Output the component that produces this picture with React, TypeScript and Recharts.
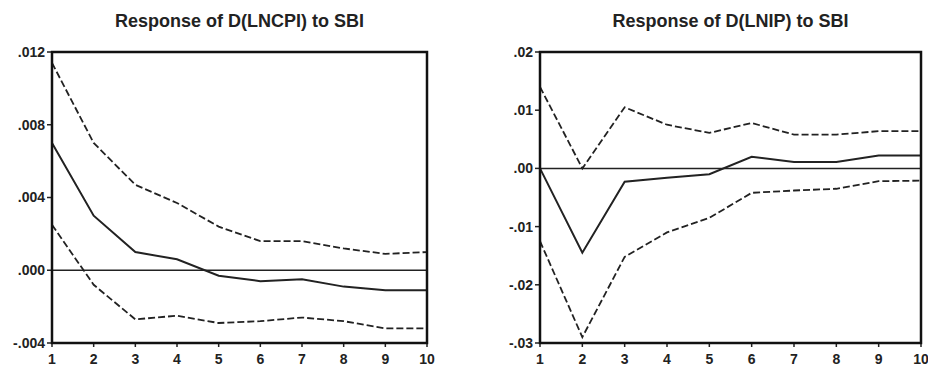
import { LineChart, Line, XAxis, YAxis, ReferenceLine } from "recharts";

const periods = [1, 2, 3, 4, 5, 6, 7, 8, 9, 10];

const cpiResponse = [0.007, 0.003, 0.001, 0.0006, -0.0003, -0.0006, -0.0005, -0.0009, -0.0011, -0.0011];
const cpiUpper = [0.0114, 0.007, 0.0047, 0.0037, 0.0024, 0.0016, 0.0016, 0.0012, 0.0009, 0.001];
const cpiLower = [0.0025, -0.0008, -0.0027, -0.0025, -0.0029, -0.0028, -0.0026, -0.0028, -0.0032, -0.0032];
const cpiTicks = [-0.004, 0, 0.004, 0.008, 0.012];

const ipResponse = [0.0, -0.0145, -0.0023, -0.0016, -0.001, 0.002, 0.0011, 0.0011, 0.0022, 0.0022];
const ipUpper = [0.014, 0.0, 0.0105, 0.0075, 0.0061, 0.0078, 0.0058, 0.0058, 0.0064, 0.0064];
const ipLower = [-0.0125, -0.029, -0.0152, -0.011, -0.0085, -0.0042, -0.0038, -0.0035, -0.0022, -0.0021];
const ipTicks = [-0.03, -0.02, -0.01, 0, 0.01, 0.02];

const font = "'Liberation Sans', Arial, sans-serif";
const ink = "#222";

const W = 464;
const H = 367;
const TOP = 52;
const X_AXIS_H = 24;

// EViews style: ".012", "-.004", ".00"
function fmt(digits: number) {
  return (v: number) => {
    const s = Math.abs(v).toFixed(digits).replace(/^0/, "");
    return v < -1e-9 ? "-" + s : s;
  };
}

interface PanelProps {
  title: string;
  resp: number[];
  upper: number[];
  lower: number[];
  ticks: number[];
  digits: number;
  left: number;
  yWidth: number;
  rightMargin: number;
}

function Panel({ title, resp, upper, lower, ticks, digits, left, yWidth, rightMargin }: PanelProps) {
  const data = periods.map((p, i) => ({
    period: p,
    resp: resp[i],
    upper: upper[i],
    lower: lower[i],
  }));
  const yMin = ticks[0];
  const yMax = ticks[ticks.length - 1];
  const xMax = periods[periods.length - 1];
  const plotLeft = yWidth;
  const plotRight = W - rightMargin;
  const plotH = H - TOP - X_AXIS_H;
  const tickStyle = { fill: ink, fontFamily: font, fontWeight: "bold", fontSize: 14 };

  return (
    <div style={{ position: "absolute", left, top: 0, width: W, height: H }}>
      <div
        style={{
          position: "absolute",
          top: 11,
          left: plotLeft - 20,
          width: plotRight - plotLeft + 40,
          textAlign: "center",
          fontFamily: font,
          fontWeight: "bold",
          fontSize: 18,
          color: ink,
        }}
      >
        {title}
      </div>
      <LineChart
        width={W}
        height={H}
        data={data}
        margin={{ top: TOP, right: rightMargin, bottom: 0, left: 0 }}
      >
        <XAxis
          dataKey="period"
          type="number"
          domain={[1, xMax]}
          ticks={periods}
          height={X_AXIS_H}
          tickSize={4}
          tickMargin={7}
          axisLine={{ stroke: ink, strokeWidth: 2 }}
          tickLine={{ stroke: ink, strokeWidth: 1.5 }}
          tick={tickStyle}
          interval={0}
        />
        <YAxis
          type="number"
          domain={[yMin, yMax]}
          ticks={ticks}
          width={yWidth}
          tickSize={5}
          tickMargin={2}
          tickFormatter={fmt(digits)}
          axisLine={{ stroke: ink, strokeWidth: 2 }}
          tickLine={{ stroke: ink, strokeWidth: 1.5 }}
          tick={tickStyle}
          allowDataOverflow
        />
        <ReferenceLine y={0} stroke={ink} strokeWidth={1.5} />
        <Line dataKey="upper" stroke={ink} strokeWidth={1.8} strokeDasharray="7 3" dot={false} isAnimationActive={false} />
        <Line dataKey="lower" stroke={ink} strokeWidth={1.8} strokeDasharray="7 3" dot={false} isAnimationActive={false} />
        <Line dataKey="resp" stroke={ink} strokeWidth={2} dot={false} isAnimationActive={false} />
      </LineChart>
      {/* plot frame (top and right edges complete the box) */}
      <svg
        width={W}
        height={H}
        style={{ position: "absolute", left: 0, top: 0, pointerEvents: "none" }}
      >
        <rect
          x={plotLeft}
          y={TOP}
          width={plotRight - plotLeft}
          height={plotH}
          fill="none"
          stroke="#111"
          strokeWidth={2.5}
        />
      </svg>
    </div>
  );
}

export default function App() {
  return (
    <div style={{ position: "absolute", left: 0, top: 0, width: 928, height: 367, background: "#fff", overflow: "hidden" }}>
      <Panel
        title="Response of D(LNCPI) to SBI"
        resp={cpiResponse}
        upper={cpiUpper}
        lower={cpiLower}
        ticks={cpiTicks}
        digits={3}
        left={0}
        yWidth={52}
        rightMargin={37}
      />
      <Panel
        title="Response of D(LNIP) to SBI"
        resp={ipResponse}
        upper={ipUpper}
        lower={ipLower}
        ticks={ipTicks}
        digits={2}
        left={464}
        yWidth={76}
        rightMargin={7}
      />
    </div>
  );
}
